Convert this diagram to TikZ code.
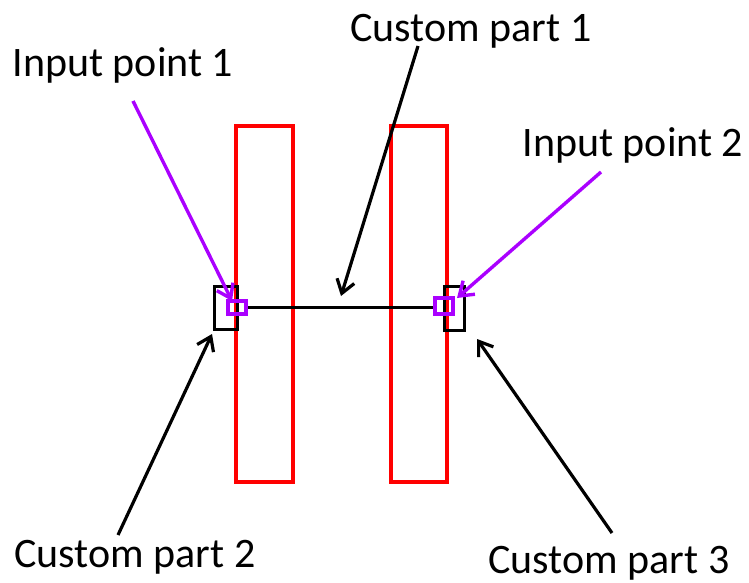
\documentclass[tikz,border=0pt]{standalone}
\usepackage{fontspec}
\setmainfont{Carlito}
\usetikzlibrary{arrows.meta}
\definecolor{vio}{RGB}{170,0,255}
\begin{document}
\begin{tikzpicture}[x=1pt,y=-1pt,
  bar/.style={draw=red,line width=3.2pt},
  part/.style={draw=black,line width=3pt},
  ipt/.style={draw=vio,line width=3.2pt},
  lbl/.style={font=\fontsize{42}{50}\selectfont,inner sep=0pt,anchor=base},
  blackarrow/.style={draw=black,line width=3.2pt,-{Straight Barb[length=13pt,width=18pt,line width=3.2pt]}},
  vioarrow/.style={draw=vio,line width=3.4pt,-{Straight Barb[length=13pt,width=18pt,line width=3.4pt]}}]
\useasboundingbox (0,0) rectangle (749,583);
% red bars
\draw[bar] (236,126) rectangle (293,482);
\draw[bar] (391,126) rectangle (447,482);
% custom parts 2,3
\draw[part] (214,286) rectangle (237,329);
\draw[part] (444,286) rectangle (464,330);
% custom part 1 line
\coordinate (l1) at (246,307);
\coordinate (l2) at (435,307);
\draw[part] (l1) -- (l2);
% input points
\draw[ipt] (228,301) rectangle (246,314);
\draw[ipt] (435,298) rectangle (453,314);
% labels
\node[lbl] (c1) at (471,42) {Custom part 1};
\node[lbl] (i1) at (123,77) {Input point 1};
\node[lbl] (i2) at (633,157) {Input point 2};
\node[lbl] (c2) at (135,567) {Custom part 2};
\node[lbl] (c3) at (609,573) {Custom part 3};
% arrow coordinates
\coordinate (a1s) at (133,101); \coordinate (a1e) at (232,301);
\coordinate (a2s) at (601,172); \coordinate (a2e) at (457,298);
\coordinate (b1s) at (418,46);  \coordinate (b1e) at (341,296);
\coordinate (b2s) at (118,535); \coordinate (b2e) at (212,334);
\coordinate (b3s) at (612,533); \coordinate (b3e) at (477,339);
\draw[vioarrow] (a1s) -- (a1e);
\draw[vioarrow] (a2s) -- (a2e);
\draw[blackarrow] (b1s) -- (b1e);
\draw[blackarrow] (b2s) -- (b2e);
\draw[blackarrow] (b3s) -- (b3e);
\end{tikzpicture}
\end{document}
